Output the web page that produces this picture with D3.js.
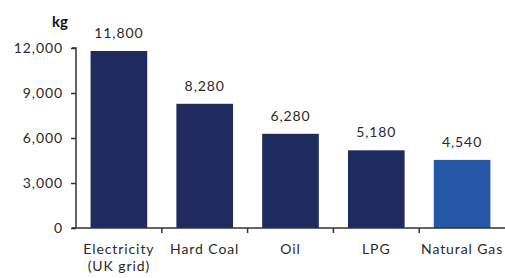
<!DOCTYPE html>
<html><head><meta charset="utf-8">
<script src="https://cdn.jsdelivr.net/npm/d3@7"></script>
<style>body{margin:0;background:#fff}svg{display:block}</style>
</head><body>
<svg id="c" width="505" height="278"></svg>
<script>
const categories = ["Electricity\n(UK grid)", "Hard Coal", "Oil", "LPG", "Natural Gas"];
const values = [11800, 8280, 6280, 5180, 4540];
const barColors = ["#1f2a5f", "#1f2a5f", "#1f2a5f", "#1f2a5f", "#2457a6"];
const yTicks = [0, 3000, 6000, 9000, 12000];
const unitLabel = "kg";

const svg = d3.select("#c");
const font = "Lato, 'Open Sans', sans-serif";
const fs = 14, ls = 0.9, txtColor = "#2a2a2a";
const x = d3.scaleBand().domain(categories).range([76, 505]).paddingInner(0.34).paddingOuter(0.17);
const y = d3.scaleLinear().domain([0, 12000]).range([228, 48]);
const fmt = d3.format(",");

// bars
svg.selectAll("rect.bar").data(values).join("rect")
  .attr("x", (d, i) => x(categories[i]))
  .attr("y", d => y(d))
  .attr("width", x.bandwidth())
  .attr("height", d => y(0) - y(d))
  .attr("fill", (d, i) => barColors[i]);

// y axis
const yAxis = svg.append("g").attr("transform", "translate(76,0)")
  .call(d3.axisLeft(y).tickValues(yTicks).tickFormat(fmt).tickSize(5).tickPadding(8));
yAxis.select(".domain").attr("stroke", "#333").attr("stroke-width", 1.5).attr("d", "M-4,48H0V228");
yAxis.selectAll(".tick line").attr("stroke", "#333").attr("stroke-width", 1.5);
yAxis.selectAll(".tick text").attr("font-family", font).attr("font-size", fs)
  .attr("letter-spacing", ls).attr("fill", txtColor);

// x axis
const xg = svg.append("g");
xg.append("line").attr("x1", 72).attr("x2", 505).attr("y1", y(0)).attr("y2", y(0))
  .attr("stroke", "#333").attr("stroke-width", 1.5);
const step = x.step();
xg.selectAll("line.tk").data(categories.slice(1)).join("line")
  .attr("x1", d => x(d) - (step - x.bandwidth()) / 2)
  .attr("x2", d => x(d) - (step - x.bandwidth()) / 2)
  .attr("y1", y(0)).attr("y2", y(0) + 5)
  .attr("stroke", "#333").attr("stroke-width", 1.5);

// category labels
categories.forEach(c => {
  const lines = c.split("\n");
  const cx = x(c) + x.bandwidth() / 2;
  const t = svg.append("text").attr("x", cx).attr("y", 254)
    .attr("text-anchor", "middle").attr("font-family", font).attr("font-size", fs)
    .attr("letter-spacing", ls).attr("fill", txtColor);
  lines.forEach((l, j) => t.append("tspan").attr("x", cx).attr("dy", j ? 17 : 0).text(l));
});

// value labels
svg.selectAll("text.val").data(values).join("text")
  .attr("x", (d, i) => x(categories[i]) + x.bandwidth() / 2)
  .attr("y", d => y(d) - 13)
  .attr("text-anchor", "middle").attr("font-family", font).attr("font-size", fs)
  .attr("letter-spacing", ls).attr("fill", txtColor)
  .text(d => fmt(d));

// unit
svg.append("text").attr("x", 60).attr("y", 27).attr("text-anchor", "middle")
  .attr("font-family", font).attr("font-weight", "bold").attr("font-size", 15).attr("fill", "#111")
  .text(unitLabel);
</script>
</body></html>
